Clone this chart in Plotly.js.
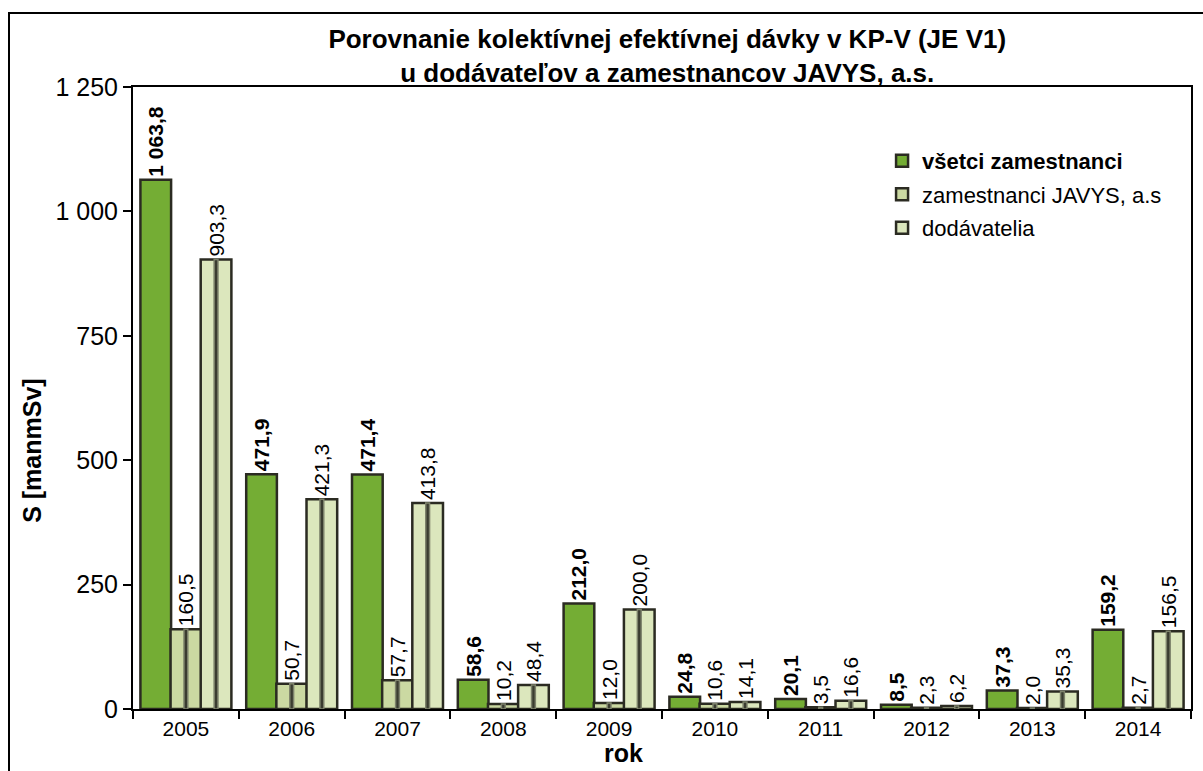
<!DOCTYPE html>
<html>
<head>
<meta charset="utf-8">
<script src="https://cdn.plot.ly/plotly-3.0.1.min.js"></script>
<style>
  body { margin: 0; background: #fff; }
  #graf { position: absolute; left: 8px; top: 12px; width: 1195px; height: 759px;
          border-left: 2px solid #000; border-top: 2px solid #000; box-sizing: border-box; }
</style>
</head>
<body>
<div id="graf"></div>
<script>
// roky a hodnoty kolektívnej dávky [manmSv]
const roky = ['2005', '2006', '2007', '2008', '2009', '2010', '2011', '2012', '2013', '2014'];
const vsetci = [1063.8, 471.9, 471.4, 58.6, 212.0, 24.8, 20.1, 8.5, 37.3, 159.2];
const javys = [160.5, 50.7, 57.7, 10.2, 12.0, 10.6, 3.5, 2.3, 2.0, 2.7];
const dodavatelia = [903.3, 421.3, 413.8, 48.4, 200.0, 14.1, 16.6, 6.2, 35.3, 156.5];
const yTicks = [0, 250, 500, 750, 1000, 1250];

const pismo = 'Liberation Sans, Arial, sans-serif';
const sirka = 0.29;

function seria(meno, hodnoty, farba, posun, tucne) {
    return {
        x: roky,
        y: hodnoty,
        name: meno,
        legendgroup: meno,
        type: 'bar',
        offset: posun,
        width: sirka,
        texttemplate: tucne ? '<b>%{y:,.1f}</b>' : '%{y:,.1f}',
        textposition: 'outside',
        textangle: -90,
        constraintext: 'none',
        cliponaxis: false,
        textfont: { family: pismo, size: 21, color: '#000' },
        marker: { color: farba, line: { color: '#2b2b22', width: 2.5 } },
        hoverinfo: 'x+y+name'
    };
}

// tmavý pásik v strede svetlých stĺpcov
function pasik(hodnoty, posun) {
    return {
        x: roky,
        y: hodnoty,
        type: 'bar',
        offset: posun + sirka / 2 - 0.018,
        width: 0.036,
        showlegend: false,
        hoverinfo: 'skip',
        marker: { color: '#3a3c30', line: { color: '#7d826b', width: 1.5 } }
    };
}

const data = [
    seria('<b>všetci zamestnanci</b>', vsetci, '#74ad34', -0.43, true),
    seria('zamestnanci JAVYS, a.s', javys, '#cbd9a2', -0.145, false),
    seria('dodávatelia', dodavatelia, '#dce7bd', 0.14, false),
    pasik(javys, -0.145),
    pasik(dodavatelia, 0.14)
];

const layout = {
    separators: ', ',
    title: {
        text: '<b>Porovnanie kolektívnej efektívnej dávky v KP-V (JE V1)<br>u dodávateľov a zamestnancov JAVYS, a.s.</b>',
        font: { family: pismo, size: 26, color: '#000' },
        x: 0.55, xanchor: 'center', y: 0.955, yanchor: 'middle'
    },
    barmode: 'overlay',
    xaxis: {
        type: 'category',
        tickfont: { family: pismo, size: 21, color: '#000' },
        ticks: 'outside', ticklen: 8, tickwidth: 2, tickcolor: '#000',
        tickson: 'boundaries',
        showline: true, linecolor: '#000', linewidth: 2, mirror: true,
        showgrid: false
    },
    yaxis: {
        range: [0, 1250],
        tickvals: yTicks,
        tickformat: ',d',
        tickfont: { family: pismo, size: 25, color: '#000' },
        ticks: 'outside', ticklen: 8, tickwidth: 2, tickcolor: '#000',
        showline: true, linecolor: '#000', linewidth: 2, mirror: true,
        showgrid: false, zeroline: false
    },
    // názvy osí ako popisy, aby sedela ich poloha
    annotations: [
        {
            text: '<b>S [manmSv]</b>', xref: 'paper', yref: 'paper',
            x: -0.0955, y: 0.415, xanchor: 'center', yanchor: 'middle',
            textangle: -90, showarrow: false,
            font: { family: pismo, size: 25, color: '#000' }
        },
        {
            text: '<b>rok</b>', xref: 'paper', yref: 'paper',
            x: 0.464, y: -0.07, xanchor: 'center', yanchor: 'middle',
            showarrow: false,
            font: { family: pismo, size: 25, color: '#000' }
        }
    ],
    legend: {
        x: 0.708, y: 0.915, xanchor: 'left', yanchor: 'top',
        font: { family: pismo, size: 22, color: '#000' },
        tracegroupgap: 2, itemwidth: 30,
        bgcolor: 'rgba(0,0,0,0)'
    },
    margin: { l: 123, r: 14, t: 73, b: 64 },
    plot_bgcolor: '#fff',
    paper_bgcolor: '#fff'
};

Plotly.newPlot('graf', data, layout, { displayModeBar: false });
</script>
</body>
</html>
